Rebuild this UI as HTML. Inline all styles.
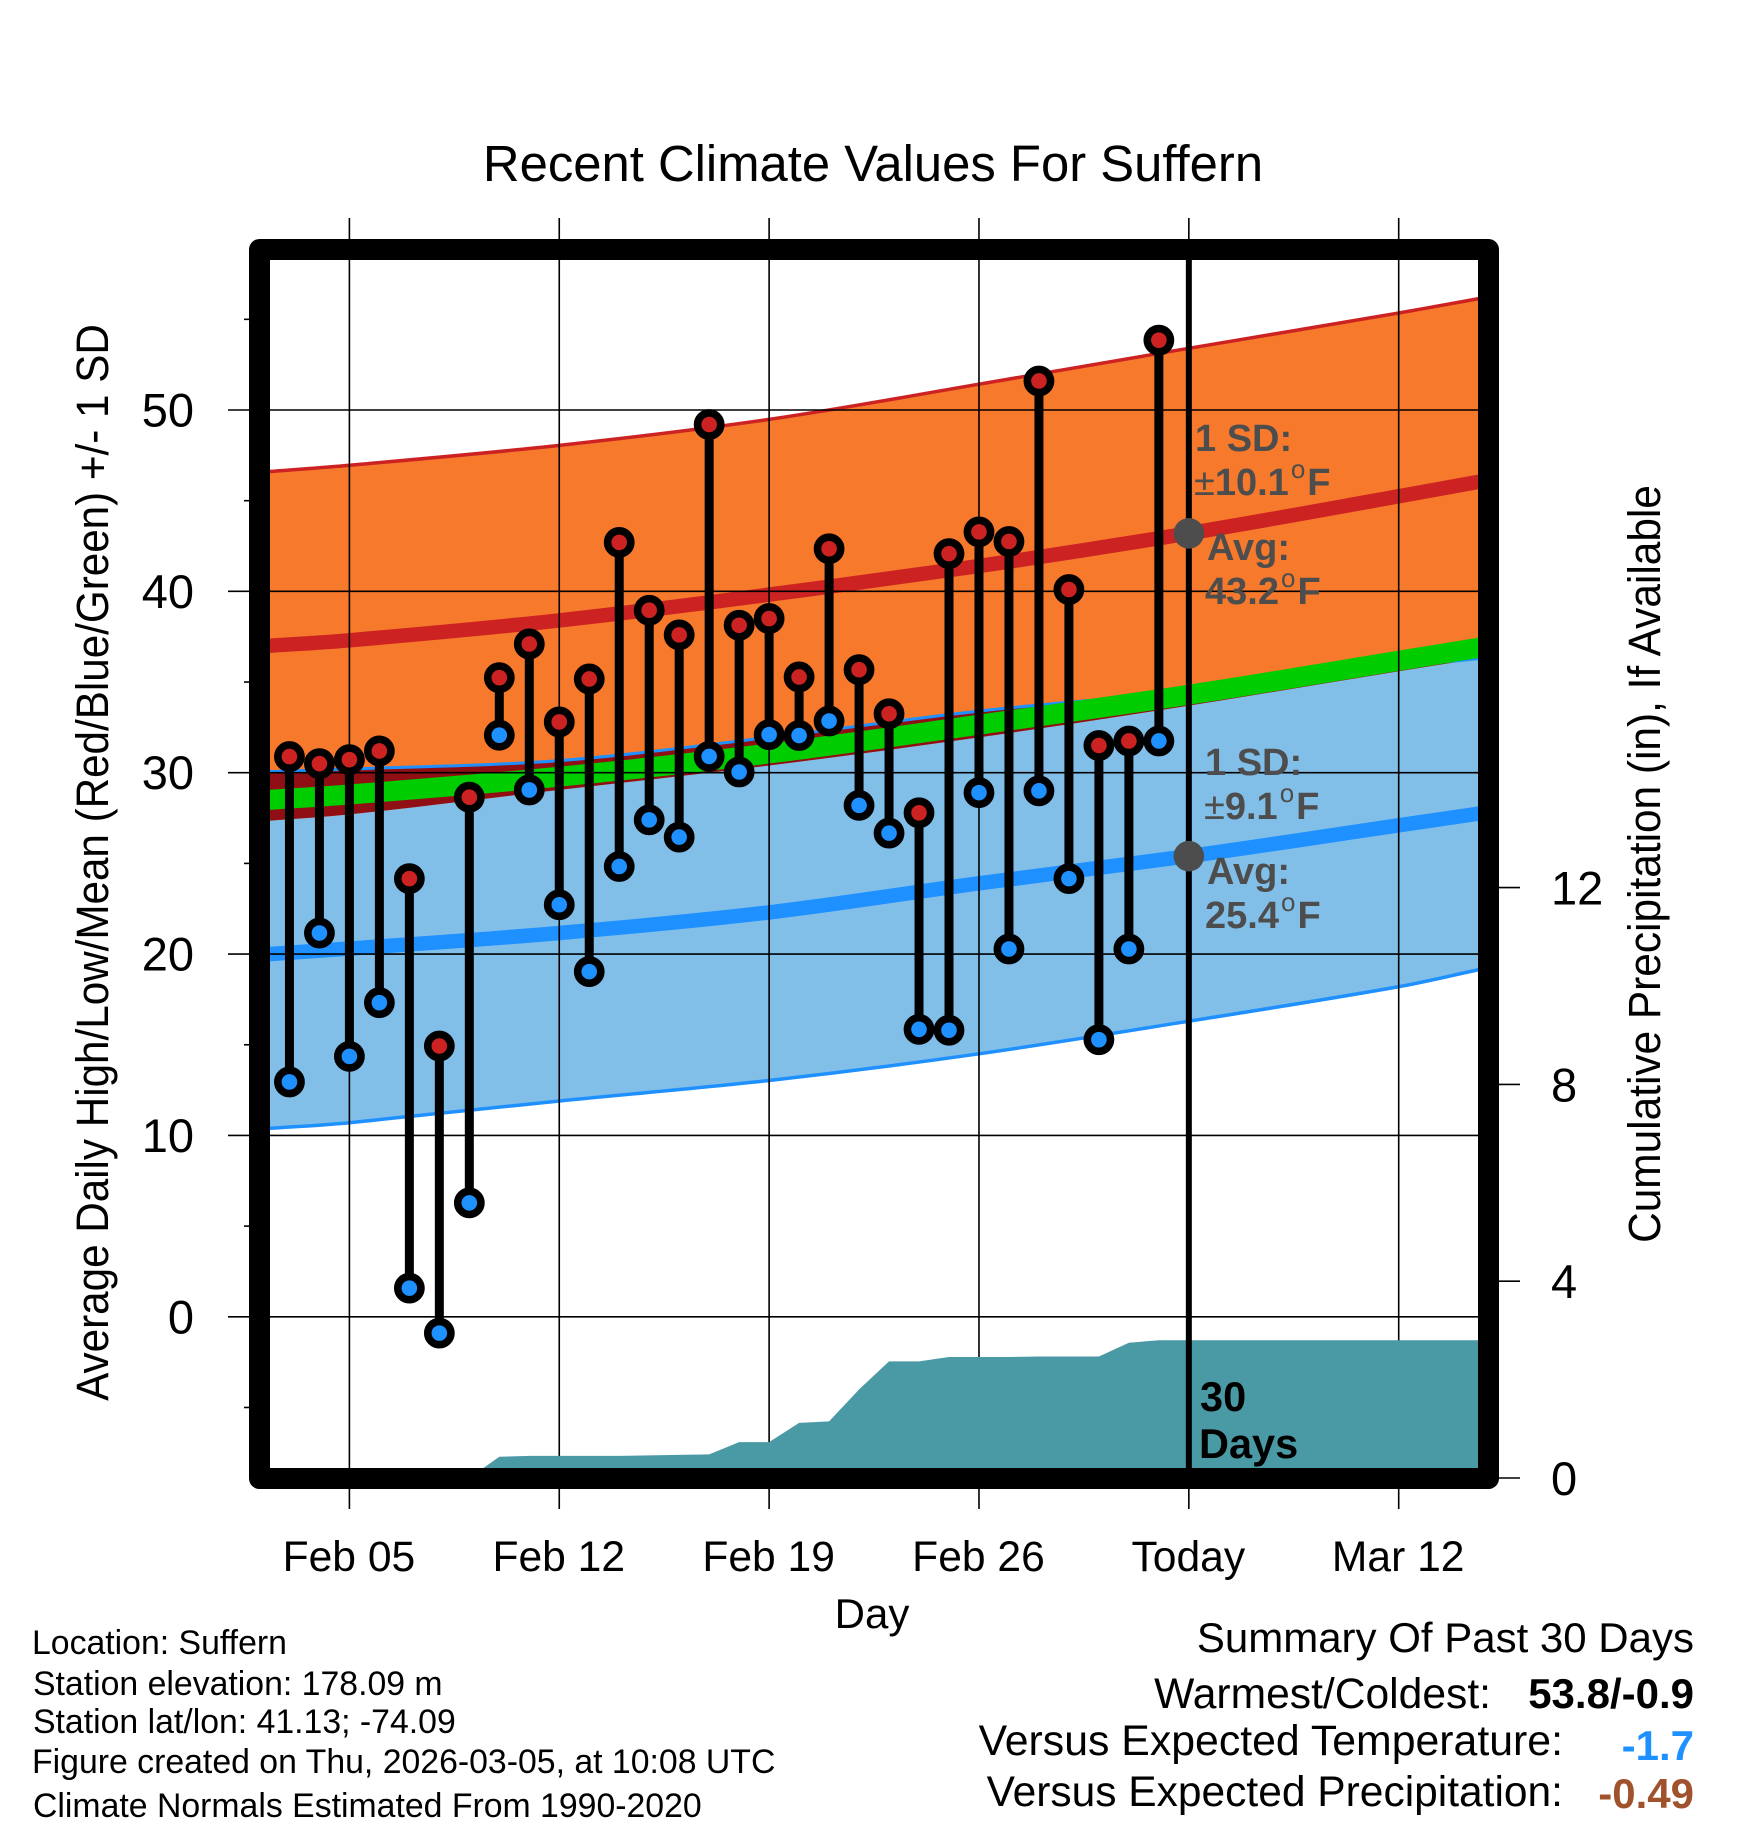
<!DOCTYPE html>
<html lang="en">
<head>
<meta charset="utf-8">
<title>Recent Climate Values For Suffern</title>
<style>
html,body{margin:0;padding:0;background:#fff;}
svg{display:block;}
text{font-family:"Liberation Sans",Arial,sans-serif;fill:#000;}
.note{font-weight:bold;font-size:38px;fill:#4d4d4d;}
.deg{font-weight:normal;font-size:26px;}
.pm{font-weight:normal;}
</style>
</head>
<body>
<svg id="chart" xmlns="http://www.w3.org/2000/svg" width="1748" height="1828" viewBox="0 0 1748 1828">
  <g id="bands"></g>
  <g id="grid"></g>
  <g id="precip"></g>
  <g id="frame"></g>
  <g id="ticks"></g>
  <g id="marks"></g>
  <g id="labels"></g>

  <text x="873" y="181" text-anchor="middle" font-size="50.8">Recent Climate Values For Suffern</text>
  <text transform="translate(108,862.5) rotate(-90) scale(1,1.07)" text-anchor="middle" font-size="42.2">Average Daily High/Low/Mean (Red/Blue/Green) +/- 1 SD</text>
  <text transform="translate(1660,864) rotate(-90) scale(1,1.07)" text-anchor="middle" font-size="42.4">Cumulative Precipitation (in), If Available</text>
  <text x="872" y="1628" text-anchor="middle" font-size="42">Day</text>

  <text class="note" x="1195" y="451">1 SD:</text>
  <text class="note" x="1194" y="495"><tspan class="pm">±</tspan>10.1<tspan class="deg" dx="2" dy="-17">o</tspan><tspan dx="2" dy="17">F</tspan></text>
  <text class="note" x="1207" y="560">Avg:</text>
  <text class="note" x="1205" y="604">43.2<tspan class="deg" dx="2" dy="-17">o</tspan><tspan dx="2" dy="17">F</tspan></text>
  <text class="note" x="1205" y="775">1 SD:</text>
  <text class="note" x="1204" y="819"><tspan class="pm">±</tspan>9.1<tspan class="deg" dx="2" dy="-17">o</tspan><tspan dx="2" dy="17">F</tspan></text>
  <text class="note" x="1207" y="884">Avg:</text>
  <text class="note" x="1205" y="928">25.4<tspan class="deg" dx="2" dy="-17">o</tspan><tspan dx="2" dy="17">F</tspan></text>

  <text x="1200" y="1411" font-size="41.5" font-weight="bold">30</text>
  <text x="1199" y="1458" font-size="41.5" font-weight="bold">Days</text>

  <g font-size="33.8">
    <text x="32" y="1654">Location: Suffern</text>
    <text x="33" y="1695">Station elevation: 178.09 m</text>
    <text x="33" y="1733">Station lat/lon: 41.13; -74.09</text>
    <text x="32" y="1773">Figure created on Thu, 2026-03-05, at 10:08 UTC</text>
    <text x="33" y="1817">Climate Normals Estimated From 1990-2020</text>
  </g>

  <g>
    <text x="1694" y="1652" text-anchor="end" font-size="42">Summary Of Past 30 Days</text>
    <text x="1491" y="1708" text-anchor="end" font-size="42.6">Warmest/Coldest:</text>
    <text x="1694" y="1708" text-anchor="end" font-size="42" font-weight="bold">53.8/-0.9</text>
    <text x="1563" y="1755" text-anchor="end" font-size="42.8">Versus Expected Temperature:</text>
    <text x="1694" y="1760" text-anchor="end" font-size="42" font-weight="bold" style="fill:#1e90ff">-1.7</text>
    <text x="1563" y="1806" text-anchor="end" font-size="42.5">Versus Expected Precipitation:</text>
    <text x="1694" y="1808" text-anchor="end" font-size="42" font-weight="bold" style="fill:#a0522d">-0.49</text>
  </g>
</svg>

<script>
// Normal curves, read at these days (days after Feb 05)
const normalDays = [-2.7, 0, 7, 14, 21, 28, 35, 37.7];
const highUpper  = [46.6, 46.95, 48.05, 49.48, 51.42, 53.4, 55.35, 56.15];
const highMean   = [37.0, 37.3, 38.4, 39.82, 41.4, 43.2, 45.24, 46.05];
const highLower  = [27.35, 27.7, 29.05, 30.4, 31.95, 33.7, 35.6, 36.3];
const avgMean    = [28.5, 28.8, 29.78, 31.06, 32.65, 34.3, 36.17, 36.9];
const lowUpper   = [30.06, 30.2, 30.67, 31.95, 33.4, 34.5, 35.85, 36.3];
const lowMean    = [20.0, 20.3, 21.16, 22.3, 23.9, 25.4, 27.1, 27.75];
const lowLower   = [10.38, 10.7, 11.9, 13.03, 14.5, 16.3, 18.2, 19.15];

// Observations, one per day starting at Feb 03 (day -2)
const firstObsDay = -2;
const dailyHigh = [30.89, 30.5, 30.72, 31.2, 24.16, 14.93, 28.65, 35.24, 37.1, 32.8, 35.17, 42.7, 38.96, 37.6, 49.2, 38.13, 38.5, 35.28, 42.35, 35.68, 33.25, 27.79, 42.08, 43.28, 42.75, 51.6, 40.1, 31.5, 31.75, 53.85];
const dailyLow  = [12.95, 21.16, 14.36, 17.32, 1.58, -0.9, 6.28, 32.07, 29.05, 22.72, 19.03, 24.83, 27.4, 26.45, 30.9, 30.04, 32.1, 32.05, 32.85, 28.2, 26.67, 15.85, 15.8, 28.9, 20.28, 29.0, 24.16, 15.28, 20.28, 31.75];
const cumulativePrecip = [0, 0, 0, 0, 0, 0, 0, 0.43, 0.45, 0.45, 0.45, 0.45, 0.46, 0.47, 0.48, 0.73, 0.73, 1.12, 1.15, 1.80, 2.37, 2.37, 2.46, 2.46, 2.46, 2.47, 2.47, 2.47, 2.75, 2.80];

// Axes
const xTickDays   = [0, 7, 14, 21, 28, 35];
const xTickLabels = ['Feb 05', 'Feb 12', 'Feb 19', 'Feb 26', 'Today', 'Mar 12'];
const yMajorTicks = [50, 40, 30, 20, 10, 0];
const yMinorTicks = [55, 45, 35, 25, 15, 5, -5];
const precipTicks = [0, 4, 8, 12];
const todayDay = 28;
const todayHigh = 43.2;
const todayLow = 25.4;
const rightEdgeDay = 37.7;

const xDay = d => 349.4 + 29.98 * d;
const yTemp = v => 1316.8 - 18.136 * v;
const yPrecip = p => 1478 - 49.2 * p;

const NS = 'http://www.w3.org/2000/svg';
function make(parent, tag, attrs) {
  const el = document.createElementNS(NS, tag);
  for (const k in attrs) el.setAttribute(k, attrs[k]);
  document.getElementById(parent).appendChild(el);
  return el;
}
// Smooth curve segments through a series of [x,y] screen points (Catmull-Rom)
const toScreen = arr => arr.map((v, i) => [xDay(normalDays[i]), yTemp(v)]);
function smoothSegs(p) {
  let s = '';
  for (let i = 0; i < p.length - 1; i++) {
    const a = p[Math.max(i - 1, 0)], b = p[i], c = p[i + 1], d = p[Math.min(i + 2, p.length - 1)];
    const h = c[0] - b[0];
    const m1 = (c[1] - a[1]) / (c[0] - a[0]);
    const m2 = (d[1] - b[1]) / (d[0] - b[0]);
    const c1x = b[0] + h / 3, c1y = b[1] + m1 * h / 3;
    const c2x = c[0] - h / 3, c2y = c[1] - m2 * h / 3;
    s += ' C' + c1x.toFixed(1) + ' ' + c1y.toFixed(1) + ' ' + c2x.toFixed(1) + ' ' + c2y.toFixed(1) + ' ' + c[0].toFixed(1) + ' ' + c[1].toFixed(1);
  }
  return s;
}
function linePath(arr) {
  const p = toScreen(arr);
  return 'M' + p[0][0].toFixed(1) + ' ' + p[0][1].toFixed(1) + smoothSegs(p);
}
function bandPath(top, bottom) {
  const t = toScreen(top), b = toScreen(bottom).reverse();
  return 'M' + t[0][0].toFixed(1) + ' ' + t[0][1].toFixed(1) + smoothSegs(t) +
         ' L' + b[0][0].toFixed(1) + ' ' + b[0][1].toFixed(1) + ' ' + reverseSegs(b) + ' Z';
}
function reverseSegs(b) {
  // Catmull-Rom for descending x order
  let s = '';
  for (let i = 0; i < b.length - 1; i++) {
    const a = b[Math.max(i - 1, 0)], p = b[i], c = b[i + 1], d = b[Math.min(i + 2, b.length - 1)];
    const h = c[0] - p[0];
    const m1 = (c[1] - a[1]) / (c[0] - a[0]);
    const m2 = (d[1] - p[1]) / (d[0] - p[0]);
    s += 'C' + (p[0] + h / 3).toFixed(1) + ' ' + (p[1] + m1 * h / 3).toFixed(1) + ' ' + (c[0] - h / 3).toFixed(1) + ' ' + (c[1] - m2 * h / 3).toFixed(1) + ' ' + c[0].toFixed(1) + ' ' + c[1].toFixed(1) + ' ';
  }
  return s;
}
let el;

// Bands
el = make('bands', 'path', {d: bandPath(lowUpper, lowLower), fill: '#82bfe8'});


el = make('bands', 'path', {d: bandPath(highUpper, highLower), fill: '#f6792c'});


el = make('bands', 'path', {d: bandPath(lowUpper, highLower), fill: '#8f0f14'});



function curve(arr, color, width) {
  return make('bands', 'path', {d: linePath(arr), fill: 'none', stroke: color, 'stroke-width': width});
}
el = curve(highUpper, '#cd2222', 3.5);


el = curve(lowLower, '#1e90ff', 3.5);


el = curve(lowUpper, '#1e90ff', 3);


el = curve(avgMean, '#00cd00', 20);


el = curve(highMean, '#cd2222', 14.5);


el = curve(lowMean, '#1e90ff', 14.5);



// Grid (extends through frame to form the ticks)
xTickDays.forEach(d => {
  const g = make('grid', 'line', {x1: xDay(d), x2: xDay(d), y1: 218, y2: 1509, stroke: '#000', 'stroke-width': 1.6});
  
  
});
yMajorTicks.forEach(v => {
  const g = make('grid', 'line', {x1: 228, x2: 1478, y1: yTemp(v), y2: yTemp(v), stroke: '#000', 'stroke-width': 1.6});
  
  
});

// Precipitation area
const precipPts = [];
precipPts.push(xDay(firstObsDay) + ',' + yPrecip(0));
cumulativePrecip.forEach((p, i) => precipPts.push(xDay(firstObsDay + i).toFixed(1) + ',' + yPrecip(p).toFixed(1)));
precipPts.push(xDay(rightEdgeDay) + ',' + yPrecip(cumulativePrecip[cumulativePrecip.length - 1]).toFixed(1));
precipPts.push(xDay(rightEdgeDay) + ',' + yPrecip(0));
el = make('precip', 'polygon', {points: precipPts.join(' '), fill: '#4a9aa5'});



// Today line
el = make('frame', 'line', {x1: xDay(todayDay), x2: xDay(todayDay), y1: 255, y2: 1472, stroke: '#000', 'stroke-width': 6});



// Frame
el = make('frame', 'rect', {x: 259.5, y: 249.5, width: 1229, height: 1229, fill: 'none', stroke: '#000', 'stroke-width': 21, 'stroke-linejoin': 'round'});



// Minor ticks and secondary axis ticks
yMinorTicks.forEach(v => {
  const t = make('ticks', 'line', {x1: 244, x2: 250, y1: yTemp(v), y2: yTemp(v), stroke: '#000', 'stroke-width': 1.6});
  
  
});
precipTicks.forEach(p => {
  const t = make('ticks', 'line', {x1: 1498, x2: 1520, y1: yPrecip(p), y2: yPrecip(p), stroke: '#000', 'stroke-width': 1.6});
  
  
});

// Daily range stems and markers
dailyHigh.forEach((hi, i) => {
  const x = xDay(firstObsDay + i);
  const lo = dailyLow[i];
  const stem = make('marks', 'line', {x1: x, x2: x, y1: yTemp(hi), y2: yTemp(lo), stroke: '#000', 'stroke-width': 9});
  
  
  const low = make('marks', 'circle', {cx: x, cy: yTemp(lo), r: 11.6, fill: '#1e90ff', stroke: '#000', 'stroke-width': 7.6});
  
  
  const high = make('marks', 'circle', {cx: x, cy: yTemp(hi), r: 11.6, fill: '#cd2222', stroke: '#000', 'stroke-width': 7.6});
  
  
});

// Today average dots
el = make('marks', 'circle', {cx: xDay(todayDay), cy: yTemp(todayHigh), r: 15.3, fill: '#4d4d4d'});


el = make('marks', 'circle', {cx: xDay(todayDay), cy: yTemp(todayLow), r: 15.3, fill: '#4d4d4d'});



// Tick labels
xTickDays.forEach((d, i) => {
  const t = make('labels', 'text', {x: xDay(d) - 0.5, y: 1571, 'text-anchor': 'middle', 'font-size': 42.6});
  
  
  t.textContent = xTickLabels[i];
});
yMajorTicks.forEach(v => {
  const t = make('labels', 'text', {x: 194, y: yTemp(v) + 16.5, 'text-anchor': 'end', 'font-size': 47});
  
  
  t.textContent = v;
});
precipTicks.forEach(p => {
  const t = make('labels', 'text', {x: 1551, y: yPrecip(p) + 17, 'text-anchor': 'start', 'font-size': 47});
  
  
  t.textContent = p;
});
</script>
</body>
</html>
